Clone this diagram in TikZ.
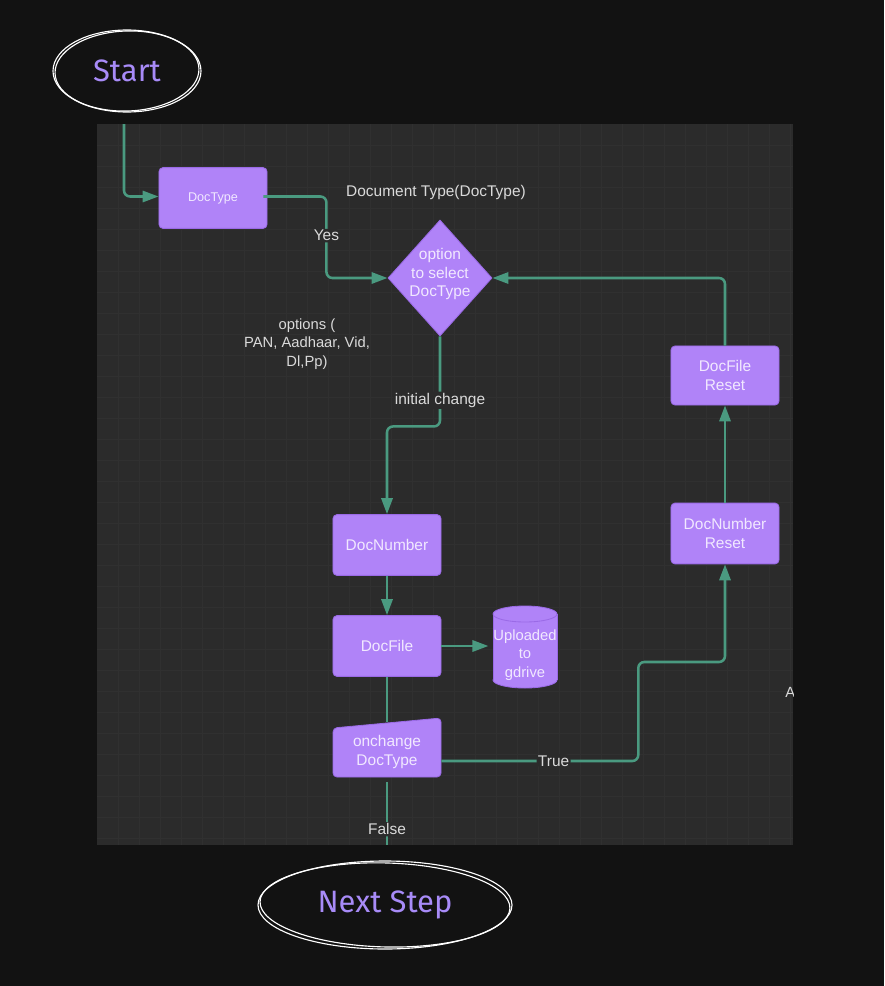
\documentclass[tikz,border=0pt]{standalone}
\usepackage{fontspec}
\setmainfont{Liberation Sans}
\newfontfamily\handfont{Fira Sans}
\usetikzlibrary{arrows.meta, positioning, shapes.geometric}

\definecolor{bg}{HTML}{121212}
\definecolor{panel}{HTML}{2B2B2B}
\definecolor{gridc}{HTML}{303030}
\definecolor{boxfill}{HTML}{B083F8}
\definecolor{boxline}{HTML}{9A6AE6}
\definecolor{boxtext}{HTML}{F1E8FF}
\definecolor{flowline}{HTML}{4A9A80}
\definecolor{labtext}{HTML}{DADADA}
\definecolor{hand}{HTML}{A88BF8}

\begin{document}
\begin{tikzpicture}[x=0.025cm, y=-0.025cm]
    \tikzset{
      box/.style={draw=boxline, fill=boxfill, line width=0.6pt, rounded corners=0.1cm, text=boxtext,
                  align=center, minimum width=2.7cm, minimum height=1.52cm, font=\fontsize{11}{13}\selectfont},
      decision/.style={diamond, draw=boxline, fill=boxfill, line width=0.6pt, inner sep=0pt,
                  minimum width=2.6cm, minimum height=2.9cm},
      inner/.style={text=boxtext, align=center, font=\fontsize{11}{13}\selectfont},
      lab/.style={fill=panel, text=labtext, inner sep=1pt, font=\fontsize{11}{13}\selectfont},
      note/.style={text=labtext, align=center, font=\fontsize{10.5}{13}\selectfont},
      flow/.style={draw=flowline, line width=1.8pt, rounded corners=0.15cm},
      sketch/.style={draw=white, line width=0.8pt},
      term/.style={text=hand, font=\handfont\fontsize{22}{24}\selectfont},
      >={Triangle[length=0.4cm, width=0.28cm]}
    }
    % canvas and panel
    \fill[bg] (0,0) rectangle (884,986);
    \fill[panel] (97,124) rectangle (793,845);
    \foreach \x in {118,139,...,793} \draw[gridc, line width=0.3pt] (\x,124) -- (\x,845);
    \foreach \y in {145,166,...,845} \draw[gridc, line width=0.3pt] (97,\y) -- (793,\y);

    % terminals
    \node[term] (start) at (127,71) {Start};
    \draw[sketch] (start) ellipse [x radius=74, y radius=41];
    \draw[sketch, rotate around={2:(start)}] (start) ellipse [x radius=72, y radius=40];
    \node[term] (next) at (385,905) {Next Step};
    \draw[sketch] (next) ellipse [x radius=127, y radius=44];
    \draw[sketch, rotate around={-1.5:(next)}] (next) ellipse [x radius=125, y radius=42];

    % nodes
    \node[box, font=\fontsize{9}{11}\selectfont] (doctype) at (213,198) {DocType};
    \node[decision, label={[inner, yshift=0.1cm]center:option\\to select\\DocType}] (option) at (440,278) {};
    \node[box] (docnumber) at (387,545) {DocNumber};
    \node[box] (docfile) at (387,646) {DocFile};
    % gdrive cylinder
    \fill[boxfill, draw=boxline, line width=0.6pt] (525,680) ellipse [x radius=32, y radius=8];
    \fill[boxfill] (493,614) rectangle (557,680);
    \draw[boxline, line width=0.6pt] (493,614) -- (493,680) (557,614) -- (557,680);
    \fill[boxfill, draw=boxline, line width=0.6pt] (525,614) ellipse [x radius=32, y radius=8];
    \node[inner, font=\fontsize{10.5}{13}\selectfont, minimum width=1.6cm, minimum height=2.05cm] (gdrive) at (525,655) {Uploaded\\to\\gdrive};
    % onchange (manual input)
    \fill[boxfill, draw=boxline, line width=0.6pt, rounded corners=0.1cm]
      (333,777) -- (333,728) -- (441,718) -- (441,777) -- cycle;
    \node[inner, minimum width=2.7cm, minimum height=1.475cm] (onchange) at (387,752) {onchange\\DocType};
    \node[box] (numreset) at (725,533.5) {DocNumber\\Reset};
    \node[box, minimum height=1.475cm] (filereset) at (725,375.5) {DocFile\\Reset};

    \node[note, font=\fontsize{11}{13}\selectfont] (title) at (436,192) {Document Type(DocType)};
    \node[note] (opts) at (307,344) {options (\\PAN, Aadhaar, Vid,\\Dl,Pp)};
    \begin{scope}
      \clip (97,124) rectangle (793,845);
      \node[note, anchor=west, inner sep=0pt] (cut) at (785,692) {A};
    \end{scope}

    % connectors
    \coordinate (entry) at (124,124);
    \coordinate (exit) at (387,845);
    \draw[flow, ->] (entry) |- ([yshift=0.0375cm]doctype.west);
    \draw[flow, ->] ([xshift=-0.1cm, yshift=0.0375cm]doctype.east) -- ++(63,0) |- node[lab, pos=0.24]{Yes} (option.west);
    \draw[flow, ->] (option.south) -- node[lab, pos=0.71]{initial change} ++(0,90) -| (docnumber.north);
    \draw[flow, ->] (docnumber) -- (docfile);
    \draw[flow, ->] (docfile.east) -- (docfile.east -| gdrive.west);
    \draw[flow] (docfile) -- (onchange);
    \draw[flow, ->] ([yshift=-0.225cm]onchange.east) -- node[lab, pos=0.57]{True} ++(197,0) -- ++(0,-99) -| (numreset.south);
    \draw[flow, ->] (numreset) -- (filereset);
    \draw[flow, ->] (filereset.north) |- (option.east);
    \draw[flow] (onchange) -- node[lab, pos=0.75]{False} (exit);
\end{tikzpicture}
\end{document}
